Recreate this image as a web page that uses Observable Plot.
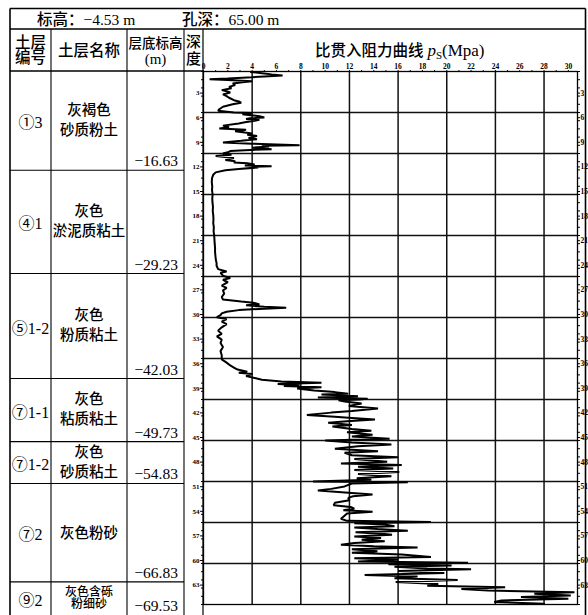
<!DOCTYPE html>
<html><head><meta charset="utf-8">
<script src="https://cdn.jsdelivr.net/npm/d3@7"></script>
<script src="https://cdn.jsdelivr.net/npm/@observablehq/plot@0.6"></script>
<style>
html,body{margin:0;padding:0;background:#fff;}
#chart svg{display:block;}
</style></head>
<body><div id="chart"></div>
<script>
// ---------- data ----------
const groundElev = -4.53;          // 标高 (m)
const holeDepth = 65.00;           // 孔深 (m)
const layerIds = ["①3", "④1", "⑤1-2", "⑦1-1", "⑦1-2", "⑦2", "⑨2"];
const layerNames = [["灰褐色", "砂质粉土"], ["灰色", "淤泥质粘土"], ["灰色", "粉质粘土"],
  ["灰色", "粘质粘土"], ["灰色", "砂质粘土"], ["灰色粉砂"], ["灰色含砾", "粉细砂"]];
const layerBottomElev = [-16.63, -29.23, -42.03, -49.73, -54.83, -66.83, -69.53];
const psTicks = [0, 2, 4, 6, 8, 10, 12, 14, 16, 18, 20, 22, 24, 26, 28, 30];
const psGrid = [4, 8, 12, 16, 20, 24, 28];
const depthTicks = [3, 6, 9, 12, 15, 18, 21, 24, 27, 30, 33, 36, 39, 42, 45, 48, 51, 54, 57, 60, 63];
const depthGrid = [5, 10, 15, 20, 25, 30, 35, 40, 45, 50, 55, 60];
// CPT curve: [depth (m), ps (MPa)]
const cptCurve = [
  [0.05,3.9],[0.2,4.8],[0.35,5.6],[0.5,6.5],[0.6,5.0],[0.7,4.0],[0.85,2.0],[0.95,0.5],[1.05,2.0],[1.2,4.0],
  [1.3,3.2],[1.46,2.4],[1.65,2.6],[1.87,2.1],[2.05,2.3],[2.27,1.5],[2.4,1.9],[2.56,2.2],[2.8,1.6],[3.0,1.9],
  [3.2,2.1],[3.5,2.5],[3.65,2.9],[3.8,3.1],[4.0,2.4],[4.15,2.0],[4.3,1.6],[4.6,1.3],[4.8,1.2],[5.0,2.5],
  [5.05,4.0],[5.2,3.2],[5.3,3.7],[5.45,4.6],[5.6,5.0],[5.7,3.8],[5.8,3.5],[5.9,4.6],[6.0,4.2],[6.2,3.4],
  [6.35,2.9],[6.6,1.6],[6.8,2.1],[6.95,1.3],[7.1,3.5],[7.3,2.6],[7.45,3.4],[7.55,4.0],[7.7,3.6],[7.85,4.4],
  [8.0,4.1],[8.1,3.7],[8.25,4.4],[8.45,3.1],[8.66,1.6],[8.8,4.0],[8.98,7.9],[9.05,4.8],[9.15,5.4],[9.3,4.0],
  [9.47,5.6],[9.6,3.4],[9.7,2.2],[9.85,2.0],[10.0,1.6],[10.15,2.3],[10.3,1.0],[10.55,2.5],[10.8,1.8],[10.95,2.6],
  [11.1,2.5],[11.2,3.6],[11.35,4.2],[11.45,3.4],[11.55,5.6],[11.62,4.0],[11.7,4.5],[11.9,2.9],[12.05,1.8],[12.3,1.0],
  [12.6,0.8],[13.0,0.7],[13.5,0.68],[14.0,0.72],[14.5,0.7],[15.0,0.75],[15.5,0.72],[16.0,0.74],[16.5,0.78],[17.0,0.76],
  [17.5,0.8],[18.0,0.82],[18.5,0.8],[19.0,0.85],[19.5,0.83],[20.0,0.88],[20.5,0.9],[21.0,0.92],[21.5,0.95],[22.0,0.95],
  [22.5,0.98],[23.0,1.02],[23.4,1.08],[23.66,1.07],[24.1,1.2],[24.4,1.9],[24.55,1.4],[24.9,1.6],[25.2,2.2],[25.4,1.6],
  [25.7,2.0],[26.1,1.5],[26.4,1.9],[26.7,1.6],[27.1,1.7],[27.5,1.5],[27.8,1.6],[28.05,3.1],[28.2,4.1],[28.4,4.6],
  [28.5,3.5],[28.7,5.0],[28.8,6.8],[29.0,4.0],[29.1,2.9],[29.3,1.9],[29.5,1.5],[29.7,1.4],[29.96,1.1],[30.2,1.9],
  [30.5,1.5],[30.8,1.9],[31.2,1.5],[31.6,1.2],[32.0,1.5],[32.3,1.1],[32.7,1.5],[33.1,1.4],[33.6,1.6],[34.1,1.4],
  [34.6,1.5],[35.1,1.5],[35.5,1.9],[35.85,2.2],[36.1,2.5],[36.35,2.8],[36.6,3.6],[36.75,2.9],[36.9,4.0],[37.15,3.5],
  [37.4,4.3],[37.6,4.8],[37.8,6.4],[37.97,9.7],[38.1,6.1],[38.25,7.9],[38.35,6.6],[38.5,9.7],[38.67,7.7],[38.9,9.1],
  [39.1,10.8],[39.3,11.9],[39.4,9.7],[39.6,12.7],[39.75,9.4],[39.9,13.5],[40.0,12.8],[40.1,11.1],[40.25,11.6],[40.5,13.0],
  [40.8,11.95],[41.1,14.35],[41.4,12.2],[41.6,10.5],[41.9,8.5],[42.1,10.8],[42.25,12.2],[42.45,14.1],[42.65,11.8],[42.85,10.25],
  [43.1,12.2],[43.3,10.6],[43.6,12.2],[43.8,13.8],[44.0,11.8],[44.3,13.9],[44.5,12.2],[44.8,15.3],[45.0,10.0],[45.25,12.2],
  [45.5,15.45],[45.7,12.7],[46.0,10.8],[46.3,14.35],[46.5,11.6],[46.8,12.2],[47.05,16.0],[47.25,12.4],[47.6,15.1],[47.8,11.3],
  [48.0,16.3],[48.2,12.7],[48.4,15.6],[48.6,12.4],[48.85,16.1],[49.1,12.7],[49.35,15.45],[49.6,12.6],[49.8,13.8],[50.0,9.0],
  [50.1,16.8],[50.25,12.2],[50.6,11.6],[50.9,10.5],[51.1,9.4],[51.4,12.2],[51.6,13.9],[51.8,12.3],[52.0,11.9],[52.3,12.0],
  [52.6,10.8],[52.9,10.7],[53.1,12.1],[53.3,12.4],[53.5,11.5],[53.7,13.9],[53.9,11.8],[54.3,11.5],[54.55,11.3],[54.8,11.8],
  [54.95,18.7],[55.1,12.4],[55.25,14.9],[55.45,15.7],[55.6,12.4],[55.8,14.3],[56.0,16.8],[56.2,12.5],[56.4,14.9],[56.5,15.5],
  [56.7,12.4],[56.9,14.6],[57.1,13.0],[57.3,14.9],[57.5,12.4],[57.7,11.3],[57.9,14.0],[58.05,17.6],[58.25,12.2],[58.5,14.3],
  [58.7,12.2],[58.9,16.3],[59.2,18.7],[59.35,12.4],[59.55,16.0],[59.75,12.7],[59.9,21.75],[60.1,15.2],[60.25,20.4],[60.4,15.7],
  [60.6,18.4],[60.7,22.0],[60.9,16.0],[61.15,19.8],[61.4,13.25],[61.6,17.6],[61.8,15.7],[62.0,20.9],[62.25,15.8],[62.5,19.3],
  [62.7,18.4],[62.9,24.8],[63.1,21.2],[63.3,23.4],[63.5,30.5],[63.7,27.2],[63.9,30.2],[64.1,26.1],[64.3,30.0],[64.5,24.5],
  [64.7,23.9],[64.9,28.0]
];

// ---------- chart ----------
const W = 588, H = 615;
const serif = "'Liberation Serif','Noto Sans CJK SC',serif";
const cjk = "'Liberation Serif','Noto Sans CJK SC',sans-serif";
const cjkWeight = 500;

const plot = Plot.plot({
  width: W, height: H,
  marginTop: 71, marginBottom: 11, marginLeft: 203, marginRight: 11,
  x: {domain: [0, 30.75]},
  y: {domain: [0, holeDepth], reverse: true},
  style: {background: "#fff", overflow: "visible", fontFamily: serif, color: "#000"},
  marks: [
    Plot.ruleX(psGrid, {stroke: "#111", strokeWidth: 1.5}),
    Plot.ruleY(depthGrid, {stroke: "#111", strokeWidth: 1.5}),
    Plot.line(cptCurve, {x: d => d[1], y: d => d[0], stroke: "#000", strokeWidth: 2, strokeLinejoin: "miter", curve: "linear"}),
    Plot.frame({stroke: "#000", strokeWidth: 1.3}),
    Plot.axisX({anchor: "top", ticks: psTicks, tickSize: 0, tickPadding: 3, fontSize: 7.5, fontWeight: "bold", label: null}),
    Plot.axisX({anchor: "top", ticks: d3.range(0, 31, 1), tickSize: 2, tickFormat: () => "", label: null}),
    Plot.axisY({anchor: "left", ticks: depthTicks, tickSize: 3, tickPadding: 1, fontSize: 7, fontWeight: "bold", dy: -3, label: null}),
    Plot.axisY({anchor: "left", ticks: d3.range(0, 66, 1), tickSize: 2, tickFormat: () => "", label: null}),
    Plot.axisY({anchor: "right", ticks: depthTicks, tickSize: 2, tickPadding: 1, fontSize: 7.5, fontWeight: "bold", dy: -3, label: null}),
    Plot.axisY({anchor: "right", ticks: d3.range(0, 66, 1), tickSize: 2, tickFormat: () => "", label: null})
  ]
});

// ---------- table (rows positioned with the plot's depth scale) ----------
const svg = d3.select(plot);
const Y = v => plot.scale("y").apply(v);
const X = v => plot.scale("x").apply(v);
const frameL = 10, frameR = 585.5, frameT = 8.5, titleB = 29;
const cols = [10, 51, 127, 184];
const pL = X(0), pT = Y(0), pB = Y(holeDepth);
const fmt = d3.format(".2f");

const lines = svg.append("g").attr("stroke", "#000").attr("fill", "none");
const seg = (x1, y1, x2, y2, w) => lines.append("line")
  .attr("x1", x1).attr("y1", y1).attr("x2", x2).attr("y2", y2).attr("stroke-width", w);
seg(frameL, frameT, frameR, frameT, 1.6);
seg(frameL, frameT, frameL, H + 5, 1.6);
seg(frameR, frameT, frameR, H + 5, 1.6);
seg(frameL, titleB, frameR, titleB, 1.3);
seg(frameL, pT, pL, pT, 1.3);
for (const c of cols.slice(1)) seg(c, titleB, c, H + 5, 1.1);
seg(pL, titleB, pL, H + 5, 1.2);

const bottomsDepth = layerBottomElev.map(e => groundElev - e);
const txt = svg.append("g").attr("fill", "#000").attr("text-anchor", "start");
let prev = 0;
bottomsDepth.forEach((d, i) => {
  const last = i === bottomsDepth.length - 1;
  const top = Y(prev);
  const bot = last ? H : Y(d);
  if (!last) seg(frameL, bot, cols[3], bot, 1.1);
  const mid = (top + bot) / 2;
  txt.append("text").attr("x", (cols[0] + cols[1]) / 2).attr("y", mid + 2)
    .attr("text-anchor", "middle").attr("dominant-baseline", "central")
    .attr("font-family", serif).attr("font-size", 16).text(layerIds[i]);
  const nm = layerNames[i];
  const cx = (cols[1] + cols[2]) / 2;
  const offs = nm.length === 1 ? [0] : (last ? [-6.5, 6] : [-11, 9]);
  nm.forEach((s, k) => {
    txt.append("text").attr("x", cx).attr("y", mid + offs[k])
      .attr("text-anchor", "middle").attr("dominant-baseline", "central")
      .attr("font-family", cjk).attr("font-weight", cjkWeight).attr("font-size", last ? 12 : 14.5).text(s);
  });
  txt.append("text").attr("x", cols[3] - 6).attr("y", bot - 4)
    .attr("text-anchor", "end").attr("font-family", serif).attr("font-size", 15.5)
    .text(fmt(layerBottomElev[i]));
  prev = d;
});

// title row
txt.append("text").attr("x", 37).attr("y", 25).attr("text-anchor", "start").attr("font-family", cjk)
  .attr("font-weight", cjkWeight).attr("font-size", 15.5).text(`标高：${fmt(groundElev)} m`);
txt.append("text").attr("x", 182).attr("y", 25).attr("text-anchor", "start").attr("font-family", cjk)
  .attr("font-weight", cjkWeight).attr("font-size", 15.5).text(`孔深：${fmt(holeDepth)} m`);

// header row
const hdr = (x, y, s, size, fam) => txt.append("text").attr("x", x).attr("y", y)
  .attr("text-anchor", "middle").attr("dominant-baseline", "central").attr("font-weight", fam ? 400 : cjkWeight)
  .attr("font-family", fam || cjk).attr("font-size", size).text(s);
hdr(30.5, 42, "土层", 15.5); hdr(30.5, 57.5, "编号", 15.5);
hdr(89, 50, "土层名称", 15.5);
hdr(155.5, 43, "层底标高", 13.5); hdr(155.5, 59, "(m)", 15, serif);
hdr(193.5, 42, "深", 15); hdr(193.5, 58.5, "度", 15);

const t = txt.append("text").attr("x", 315).attr("y", 56).attr("text-anchor", "start").attr("font-family", cjk)
  .attr("font-weight", cjkWeight).attr("font-size", 15.5);
t.append("tspan").text("比贯入阻力曲线 ");
t.append("tspan").attr("font-family", serif).attr("font-weight", 400).attr("font-style", "italic").attr("font-size", 17).text("p");
t.append("tspan").attr("font-family", serif).attr("font-weight", 400).attr("font-size", 11).attr("dy", 3).text("S");
t.append("tspan").attr("font-family", serif).attr("font-weight", 400).attr("font-size", 17).attr("dy", -3).text("(Mpa)");

document.getElementById("chart").appendChild(plot);
</script>
</body></html>
